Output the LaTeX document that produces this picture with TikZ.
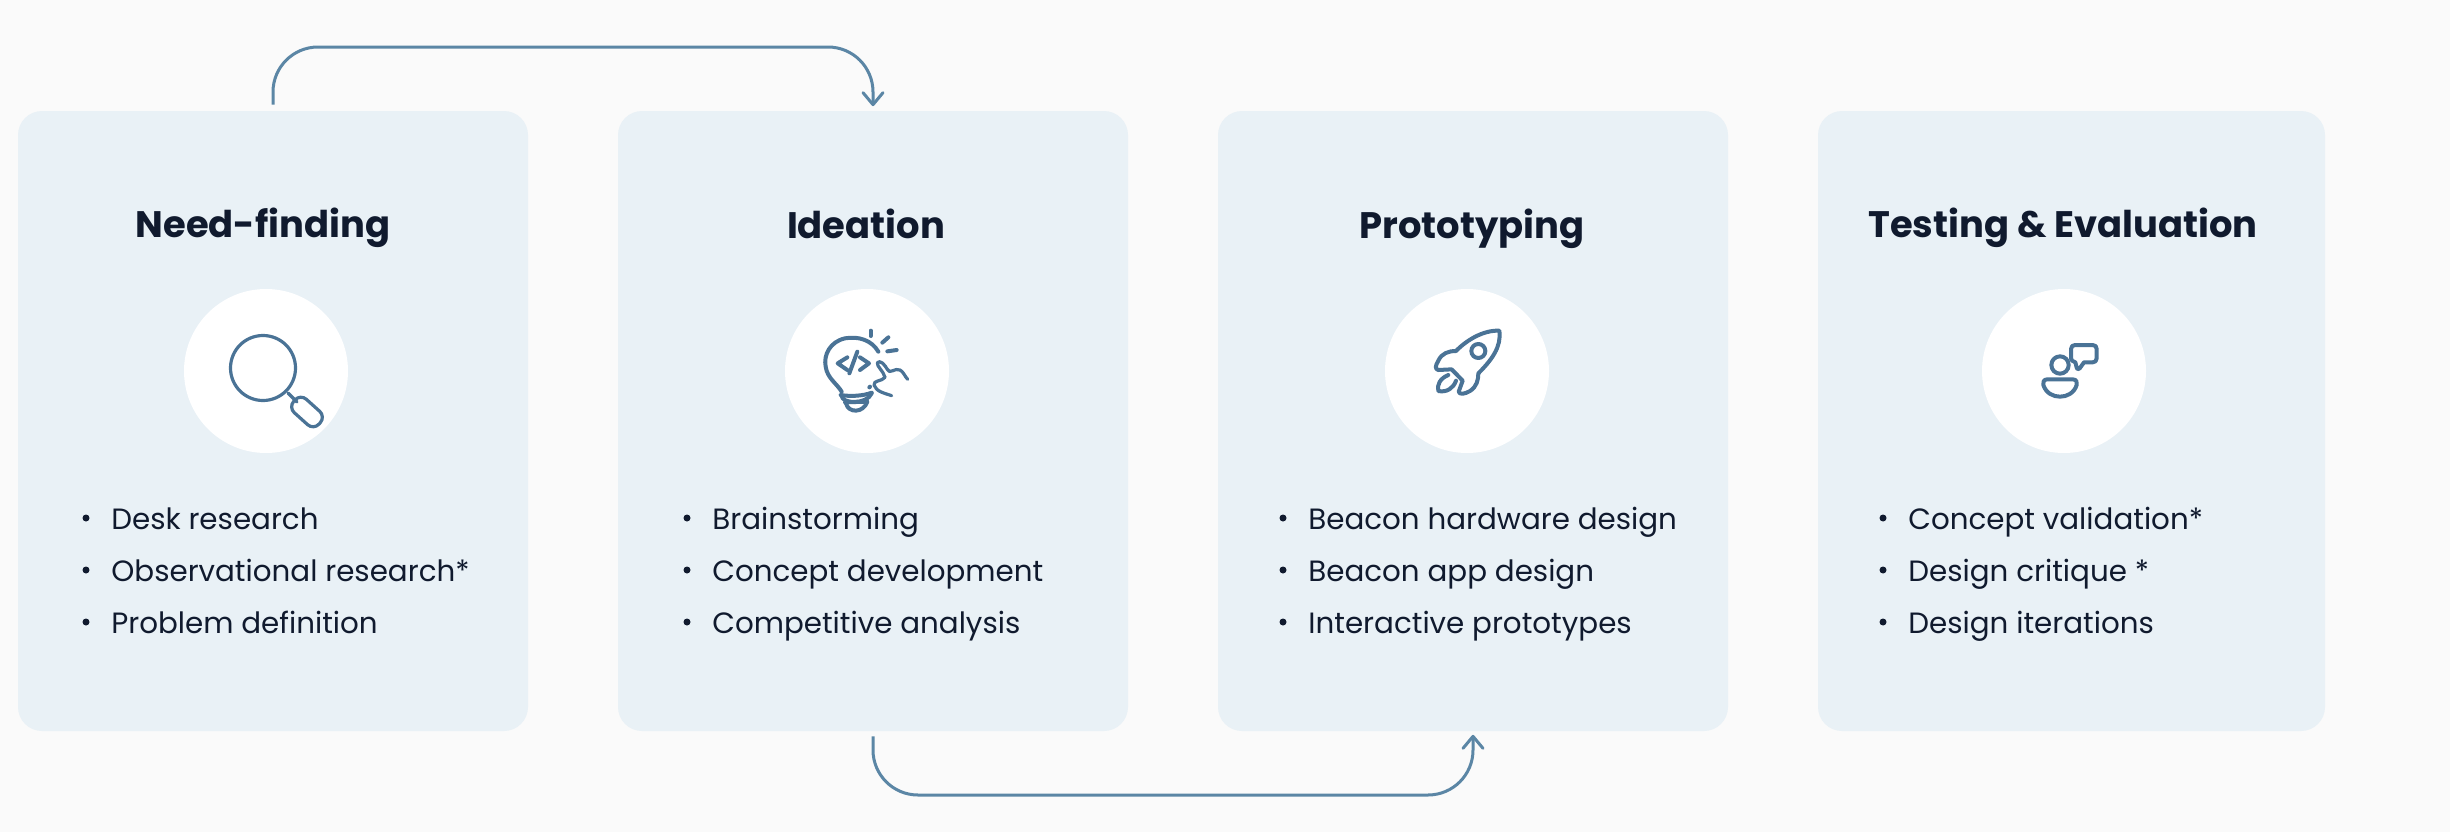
\documentclass[tikz,border=0pt]{standalone}
\usepackage{fontspec}
\setmainfont{Poppins}
\usetikzlibrary{calc}
\newdimen\pxu \pxu=0.02cm
\definecolor{pagebg}{HTML}{FAFAFA}
\definecolor{cardbg}{HTML}{E9F1F6}
\definecolor{inkdark}{HTML}{101A2E}
\definecolor{flowline}{HTML}{5B86A5}
\definecolor{iconline}{HTML}{4A7396}
\tikzset{
  cardbox/.style={fill=cardbg,draw=none,rounded corners=24\pxu,inner sep=0pt,minimum height=620\pxu},
  iconspot/.style={circle,fill=white,draw=none,minimum size=164\pxu,inner sep=0pt},
  headtext/.style={anchor=base,inner sep=0pt,text=inkdark,font=\fontsize{21pt}{24pt}\selectfont\bfseries},
  itemtext/.style={anchor=base west,inner sep=0pt,text=inkdark,font=\fontsize{16.7pt}{20pt}\selectfont},
  dotmark/.style={circle,fill=inkdark,draw=none,minimum size=7\pxu,inner sep=0pt},
  flow/.style={draw=flowline,line width=3\pxu,rounded corners=45\pxu},
  barb/.style={draw=flowline,line width=3\pxu,line cap=round,line join=round},
  iconstroke/.style={draw=iconline,line width=3.2\pxu,line cap=round,line join=round,fill=none},
  iconbold/.style={iconstroke,line width=4\pxu},
}
\newcommand{\listitem}[4]{%
  \node[dotmark] (#1d) at (#2-25,#3-11) {};
  \node[itemtext] (#1t) at (#2,#3) {#4};
}
\begin{document}
\begin{tikzpicture}[x=0.02cm,y=-0.02cm]
\useasboundingbox (0,0) rectangle (2450,832);
\fill[pagebg] (0,0) rectangle (2450,832);

\node[cardbox,minimum width=510\pxu] (c1) at (273,421) {};
\node[cardbox,minimum width=510\pxu] (c2) at (873,421) {};
\node[cardbox,minimum width=510\pxu] (c3) at (1473,421) {};
\node[cardbox,minimum width=507\pxu] (c4) at (2071.5,421) {};

\node[headtext] (h1) at (263,237) {Need-finding};
\node[headtext] (h2) at (866,238) {Ideation};
\node[headtext] (h3) at (1472,238) {Prototyping};
\node[headtext] (h4) at (2063,237) {Testing \& Evaluation};

\node[iconspot] (s1) at (266,371) {};
\node[iconspot] (s2) at (867,371) {};
\node[iconspot] (s3) at (1467,371) {};
\node[iconspot] (s4) at (2064,371) {};

\listitem{a1}{111}{529}{Desk research}
\listitem{a2}{111}{581}{Observational research*}
\listitem{a3}{111}{633}{Problem definition}
\listitem{b1}{712}{529}{Brainstorming}
\listitem{b2}{712}{581}{Concept development}
\listitem{b3}{712}{633}{Competitive analysis}
\listitem{d1}{1308}{529}{Beacon hardware design}
\listitem{d2}{1308}{581}{Beacon app design}
\listitem{d3}{1308}{633}{Interactive prototypes}
\listitem{e1}{1908}{529}{Concept validation*}
\listitem{e2}{1908}{581}{Design critique *}
\listitem{e3}{1908}{633}{Design iterations}

% connectors
\coordinate (ua) at ($(c1.north)+(0,-6)$);
\coordinate (ub) at ($(c2.north)+(0,-6)$);
\coordinate (ut) at (0,47);
\draw[flow] (ua) -- (ua|-ut) -- (ub|-ut) -- (ub);
\draw[barb] ($(ub)+(-10,-12)$) -- (ub) -- ($(ub)+(10,-12)$);
\coordinate (la) at ($(c2.south)+(0,5)$);
\coordinate (lb) at ($(c3.south)+(0,5)$);
\coordinate (lt) at (0,795);
\draw[flow] (la) -- (la|-lt) -- (lb|-lt) -- (lb);
\draw[barb] ($(lb)+(-10,12)$) -- (lb) -- ($(lb)+(10,12)$);

% magnifier
\draw[iconstroke] (263,368) circle[radius=32.5];
\draw[iconstroke] (288,393) -- (297,402);
\draw[iconstroke,rotate around={-42:(307,412)},rounded corners=8\pxu] (290,403) rectangle (324,421);

% bulb
\begin{scope}[shift={(770,280)},scale=1/3]
\draw[iconbold] (325,215) .. controls (305,180) and (265,168) .. (225,175) .. controls (180,185) and (160,225) .. (167,260) .. controls (172,295) and (200,310) .. (215,335);
\draw[iconbold] (212,345) .. controls (240,350) and (280,348) .. (305,338);
\draw[iconbold] (215,347) .. controls (215,372) and (290,375) .. (305,340);
\draw[iconbold] (228,370) .. controls (235,400) and (280,400) .. (292,365);
\draw[iconbold] (225,367) -- (290,365);
\draw[iconbold] (232,232) -- (203,250) -- (232,270);
\draw[iconbold] (262,215) -- (238,280);
\draw[iconbold] (270,232) -- (297,250) -- (270,270);
\draw[iconbold] (302,152) -- (302,168);
\draw[iconbold] (355,172) -- (337,188);
\draw[iconbold] (380,210) -- (352,214);
\draw[iconstroke] (345,292) .. controls (340,272) and (320,260) .. (322,248) .. controls (330,238) and (345,255) .. (352,268) .. controls (358,285) and (375,262) .. (390,270) .. controls (400,275) and (405,290) .. (413,298);
\draw[iconstroke] (345,292) .. controls (335,305) and (310,300) .. (312,315) .. controls (318,335) and (345,340) .. (365,347);
\draw[iconbold] (298,322) -- (300,320);
\end{scope}

% rocket
\begin{scope}[shift={(1370,290)},scale=1/3]
\draw[iconbold] (388,122) .. controls (340,120) and (290,150) .. (258,183) .. controls (235,183) and (215,190) .. (205,212) .. controls (195,228) and (195,238) .. (205,240) -- (245,238) -- (278,272) -- (266,305) .. controls (268,315) and (285,312) .. (300,303) .. controls (320,290) and (325,270) .. (325,250) .. controls (365,210) and (395,170) .. (388,122) -- cycle;
\draw[iconbold] (325,183) circle[radius=21];
\draw[iconbold] (235,255) .. controls (210,265) and (200,285) .. (205,303) .. controls (230,308) and (250,295) .. (258,272);
\end{scope}

% person and speech bubble
\begin{scope}[shift={(1960,300)},scale=1/3]
\draw[iconbold] (300,195) circle[radius=26];
\draw[iconbold] (262,238) -- (338,238) .. controls (350,238) and (352,248) .. (350,255) .. controls (342,280) and (320,290) .. (300,290) .. controls (280,290) and (258,280) .. (250,255) .. controls (248,248) and (250,238) .. (262,238) -- cycle;
\draw[iconbold] (345,135) -- (398,135) .. controls (406,135) and (410,140) .. (410,147) -- (410,175) .. controls (410,183) and (405,187) .. (398,187) -- (372,187) -- (359,205) .. controls (355,210) and (350,208) .. (350,203) -- (346,187) .. controls (338,185) and (333,180) .. (333,175) -- (333,147) .. controls (333,140) and (338,135) .. (345,135) -- cycle;
\end{scope}
\end{tikzpicture}
\end{document}
